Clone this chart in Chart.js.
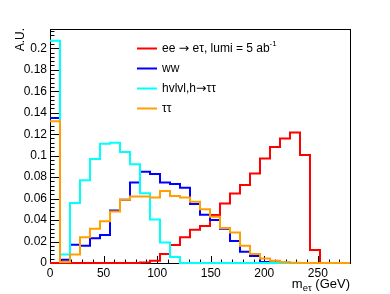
<!DOCTYPE html>
<html>
<head>
<meta charset="utf-8">
<title>m_etau</title>
<script src="https://cdn.jsdelivr.net/npm/chart.js@4.4.1/dist/chart.umd.min.js"></script>
<style>
  html,body{margin:0;padding:0;background:#fff;}
  #wrap{width:390px;height:294px;}
</style>
</head>
<body>
<div id="wrap"><canvas id="c" width="390" height="294"></canvas></div>
<script>
/* ============================================================
   m_etau distributions, normalised (A.U.)
   30 bins over 0-280 GeV, drawn as ROOT-style step histograms
   ============================================================ */

const FONT = '"Liberation Sans", Arial, Helvetica, sans-serif';
const ARROW_FONT = '"DejaVu Sans", sans-serif';

const xMin = 0, xMax = 280, nBins = 30;
const yMin = 0, yMax = 0.218;

const xTicks = [0, 50, 100, 150, 200, 250];
const yTicks = [0, 0.02, 0.04, 0.06, 0.08, 0.1, 0.12, 0.14, 0.16, 0.18, 0.2];
const xMinorStep = 10, yMinorStep = 0.004;

// bin contents (one value per bin)
const eeEtau = [0, 0, 0, 0, 0, 0, 0, 0, 0, 0.0005,
                0.002, 0.0085, 0.0167, 0.024, 0.031, 0.0344, 0.0447, 0.0555, 0.0648, 0.0726,
                0.0834, 0.0974, 0.108, 0.116, 0.1216, 0.1005, 0.0121, 0, 0, 0];
const ww     = [0.135, 0.003, 0.017, 0.016, 0.023, 0.026, 0.049, 0.059, 0.075, 0.085,
                0.083, 0.075, 0.0735, 0.070, 0.055, 0.045, 0.040, 0.032, 0.0205, 0.0105,
                0.0065, 0.001, 0.0005, 0.0003, 0, 0, 0, 0, 0, 0];
const hvlvl  = [0.207, 0.008, 0.056, 0.077, 0.097, 0.111, 0.112, 0.1035, 0.092, 0.065,
                0.0405, 0.019, 0.0055, 0, 0, 0, 0, 0, 0, 0,
                0, 0, 0, 0, 0, 0, 0, 0, 0, 0];
const tautau = [0.132, 0.001, 0.008, 0.024, 0.032, 0.039, 0.048, 0.059, 0.062, 0.062,
                0.061, 0.067, 0.0625, 0.061, 0.057, 0.050, 0.043, 0.0325, 0.0285, 0.016,
                0.0084, 0.0043, 0.002, 0.0008, 0.0003, 0, 0, 0, 0, 0];

const seriesNames = ['ee \u2192 e\u03c4, lumi = 5 ab', 'ww', 'hvlvl,h\u2192\u03c4\u03c4', '\u03c4\u03c4'];
const seriesColors = ['#ff0000', '#0000ff', '#00ffff', '#ffa000'];

const binW = (xMax - xMin) / nBins;

// histogram -> points at the bin low edges (+ closing point at xMax)
function toSteps(vals){
  const pts = vals.map((v, i) => ({x: xMin + i * binW, y: v}));
  pts.push({x: xMax, y: vals[vals.length - 1]});
  return pts;
}

function makeSet(vals, i){
  return {
    label: seriesNames[i],
    data: toSteps(vals),
    borderColor: seriesColors[i],
    borderWidth: 2,
    borderJoinStyle: 'miter',
    pointRadius: 0,
    fill: false,
    stepped: 'before',
    clip: false,
    order: 4 - i          // later series on top, like ROOT "same"
  };
}

// draw a list of text runs left to right, returns end x
function drawRuns(ctx, runs, x, y){
  runs.forEach(r => {
    ctx.font = r.font;
    ctx.fillText(r.t, x, y + (r.dy || 0));
    x += ctx.measureText(r.t).width;
  });
  return x;
}

// split a label so the arrow comes from a font with a proper long arrow
function labelRuns(name){
  const runs = [];
  name.split('\u2192').forEach((part, k) => {
    if(k > 0) runs.push({t: '\u2192', font: '12.5px ' + ARROW_FONT, dy: 0.5});
    if(part) runs.push({t: part, font: '12px ' + FONT});
  });
  return runs;
}

/* ---------------- frame + inward ticks ---------------- */
const framePlugin = {
  id: 'frame',
  beforeDatasetsDraw(chart){
    const {ctx, chartArea: a, scales: {x, y}} = chart;
    ctx.save();
    ctx.strokeStyle = '#000';
    ctx.lineWidth = 1;
    ctx.strokeRect(a.left + 0.5, a.top + 0.5, a.right - a.left, a.bottom - a.top);

    ctx.beginPath();
    const nY = Math.floor((yMax - yMin) / yMinorStep + 1e-6);
    for(let i = 0; i <= nY; i++){
      const py = Math.round(y.getPixelForValue(yMin + i * yMinorStep)) + 0.5;
      const len = (i % 5 === 0) ? 9 : 4.5;
      ctx.moveTo(a.left, py); ctx.lineTo(a.left + len, py);
    }
    const nX = Math.floor((xMax - xMin) / xMinorStep + 1e-6);
    for(let i = 0; i <= nX; i++){
      const px = Math.round(x.getPixelForValue(xMin + i * xMinorStep)) + 0.5;
      const len = (i % 5 === 0) ? 7 : 3.5;
      ctx.moveTo(px, a.bottom); ctx.lineTo(px, a.bottom - len);
    }
    ctx.stroke();
    ctx.restore();
  }
};

/* ---------------- legend + axis titles ---------------- */
const textPlugin = {
  id: 'texts',
  afterDraw(chart){
    const {ctx, chartArea: a} = chart;
    ctx.save();
    ctx.fillStyle = '#000';

    // legend (no border), upper middle of the frame
    const lx0 = 137, lx1 = 157, tx = 162, ly0 = 48.5, dy = 20;
    ctx.textBaseline = 'middle';
    ctx.textAlign = 'left';
    seriesNames.forEach((name, i) => {
      const yy = ly0 + i * dy;
      ctx.strokeStyle = seriesColors[i];
      ctx.lineWidth = 2;
      ctx.beginPath(); ctx.moveTo(lx0, yy); ctx.lineTo(lx1, yy); ctx.stroke();
      const runs = labelRuns(name);
      if(i === 0) runs.push({t: '-1', font: '8px ' + FONT, dy: -5});
      drawRuns(ctx, runs, tx, yy);
    });

    // x title, right aligned to the frame:  m_{e#tau} (GeV)
    ctx.textBaseline = 'alphabetic';
    const title = [
      {t: 'm', font: '13px ' + FONT},
      {t: 'e\u03c4', font: '9.5px ' + FONT, dy: 3},
      {t: ' (GeV)', font: '13px ' + FONT}
    ];
    let w = 0;
    title.forEach(r => { ctx.font = r.font; w += ctx.measureText(r.t).width; });
    drawRuns(ctx, title, a.right - w, 288);

    // y title, rotated, top aligned
    ctx.translate(21, a.top - 1);
    ctx.rotate(-Math.PI / 2);
    ctx.textAlign = 'right';
    ctx.textBaseline = 'middle';
    ctx.font = '12px ' + FONT;
    ctx.fillText('A.U.', 0, 0);
    ctx.restore();
  }
};

const tickFont = {family: FONT, size: 12};

new Chart(document.getElementById('c'), {
  type: 'line',
  data: { datasets: [eeEtau, ww, hvlvl, tautau].map(makeSet) },
  options: {
    responsive: false,
    devicePixelRatio: 1,
    animation: false,
    layout: { padding: {top: 29, right: 40, left: 0, bottom: 0} },
    plugins: { legend: {display: false}, tooltip: {enabled: false} },
    scales: {
      x: {
        type: 'linear', min: xMin, max: xMax,
        grid: {display: false, drawTicks: false},
        border: {display: false},
        afterBuildTicks: s => { s.ticks = xTicks.map(v => ({value: v})); },
        afterFit: s => { s.height = 31; },
        ticks: {padding: 3, color: '#000', font: tickFont, maxRotation: 0, autoSkip: false,
                callback: v => String(v)}
      },
      y: {
        type: 'linear', min: yMin, max: yMax,
        grid: {display: false, drawTicks: false},
        border: {display: false},
        afterBuildTicks: s => { s.ticks = yTicks.map(v => ({value: v})); },
        afterFit: s => { s.width = 50; },
        ticks: {padding: 3, color: '#000', font: tickFont, autoSkip: false,
                callback: v => String(+v.toFixed(2))}
      }
    }
  },
  plugins: [framePlugin, textPlugin]
});
</script>
</body>
</html>
